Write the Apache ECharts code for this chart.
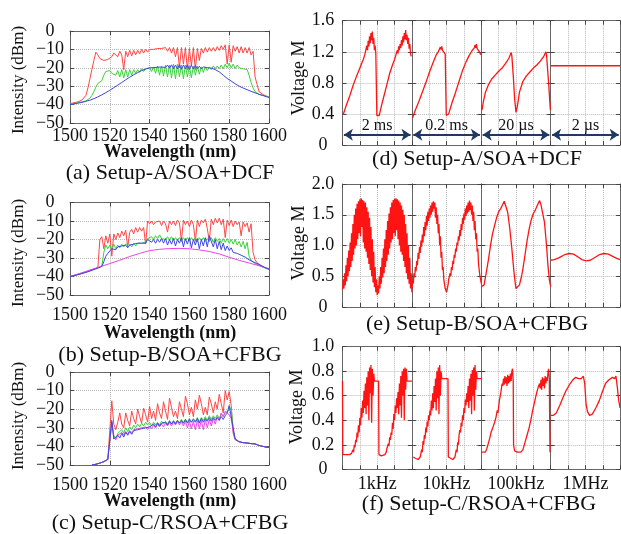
<!DOCTYPE html>
<html><head><meta charset="utf-8">
<script src="https://cdn.jsdelivr.net/npm/echarts@6/dist/echarts.min.js"></script>
<style>html,body{margin:0;padding:0;background:#fff}#c{width:621px;height:534px}</style>
</head><body><div id="c"></div>
<script>
// ---------- DATA: spectra (wavelength in nm, intensity in dBm) ----------
const WL = [1500,1501,1502,1503,1504,1505,1506,1507,1508,1509,1510,1511,1512,1513,1514,1515,1516,1517,1518,1519,
1520,1521,1522,1523,1524,1525,1526,1527,1528,1529,1530,1531,1532,1533,1534,1535,1536,1537,1538,1539,
1540,1541,1542,1543,1544,1545,1546,1547,1548,1549,1550,1551,1552,1553,1554,1555,1556,1557,1558,1559,
1560,1561,1562,1563,1564,1565,1566,1567,1568,1569,1570,1571,1572,1573,1574,1575,1576,1577,1578,1579,
1580,1581,1582,1583,1584,1585,1586,1587,1588,1589,1590,1591,1592,1593,1594,1595,1596,1597,1598,1599,1600];
const WL5 = [1500,1505,1510,1515,1520,1525,1530,1535,1540,1545,1550,1555,1560,1565,1570,1575,1580,1585,1590,1595,1600];
const X_TICKS = {min:1500, max:1600, interval:20};
const Y_TICKS = {min:-50, max:0, interval:10};

const A_RED = [-39.5,-39.5,-39,-39,-38.5,-38,-37.5,-36.5,-35,-31,
-26,-21,-16,-11.5,-13,-15,-16,-16,-15.5,-15.5,
-15,-14,-12,-11,-14,-11,-13,-21,-11,-14,
-10.5,-13.5,-10.5,-13,-10.5,-12.5,-10,-12,-10,-11.5,
-10,-11,-10,-11,-9.5,-10.5,-9.5,-10.5,-9,-11,
-9,-12,-9,-14,-9,-20,-9,-18,-9,-21,
-9.5,-19,-9,-21,-9.5,-16,-9.5,-12,-9,-11.5,
-9,-11,-9,-11,-8.5,-10.5,-8,-10,-7.5,-18,
-7.5,-17,-8,-11,-8.5,-12,-8.5,-12,-9,-12,
-9,-13,-11,-25,-29,-33,-34,-34.5,-35,-35.5,-36];
const A_GREEN = [-40,-39.8,-39.5,-39.2,-39,-38.7,-38.5,-38.2,-38,-37.5,
-36.5,-35,-33,-30.5,-28.5,-27.5,-27,-24,-22,-21,
-21.5,-23,-22.5,-24,-21.5,-25,-21,-25.5,-21,-25,
-21,-24,-21,-23,-21,-22.5,-20.5,-22,-20.5,-21,
-20,-22,-19.5,-23,-19,-24,-19,-24.5,-18.5,-25,
-18.5,-25.5,-18,-26,-18,-25,-18.5,-26,-18.5,-25,
-19,-25.5,-19,-24,-19,-23.5,-19.5,-22.5,-19.5,-21.5,
-19.5,-21,-19,-20.5,-19,-20.5,-18.5,-20.5,-18,-20,
-17.5,-20,-18,-20.5,-18.5,-20,-19,-20.5,-19.5,-21,
-24,-28,-31,-33,-34,-34.5,-34.8,-35,-35.3,-35.6,-36];
const A_BLUE = [-40,-39.8,-39.6,-39.4,-39.2,-39,-38.8,-38.5,-38.2,-38,
-37.6,-37.2,-36.8,-36.3,-35.8,-35.3,-34.7,-34.1,-33.5,-32.9,
-32.2,-31.5,-30.8,-30.1,-29.4,-28.7,-28,-27.2,-26.5,-25.8,
-25.1,-24.4,-23.8,-23.2,-22.6,-22,-21.5,-21.1,-20.7,-20.3,
-20,-19.6,-19.9,-19.2,-19.7,-18.9,-19.6,-18.7,-19.8,-18.5,
-20.2,-18.4,-20.5,-18.5,-20.6,-18.3,-20.8,-18.5,-20.5,-18.4,
-20.8,-18.6,-20.6,-18.8,-20.4,-19.2,-20.6,-19.5,-20.5,-20,
-20.5,-20.2,-21,-21,-21.5,-22.2,-23,-24,-25,-25.8,
-26.5,-27.2,-28,-28.7,-29.5,-30,-30.5,-31,-31.5,-31.9,
-32.3,-32.8,-33.2,-33.6,-34,-34.4,-34.8,-35.1,-35.5,-35.8,-36.2];

const B_RED = [-40,-39.8,-39.5,-39.2,-38.9,-38.6,-38.3,-38,-37.6,-37.2,
-36.8,-36.4,-36,-35.6,-35.2,-20,-18.5,-25,-18,-22,
-17,-29,-17,-20,-16.5,-19,-15.5,-18,-15,-24,
-16,-14.5,-17,-13.5,-16,-13.5,-15.5,-13.5,-22.5,-10,
-11.5,-10,-12,-10.5,-11,-10,-12.5,-10,-11.5,-16,
-10,-12,-10,-12.5,-9.5,-11,-21,-9.5,-12,-10,
-13,-9.5,-12,-21,-9.5,-13,-9.5,-11,-9,-14,
-21,-9,-12,-8.5,-11,-8.5,-12,-9,-19,-9.5,
-12.5,-9.5,-13,-10,-12,-10.5,-18,-10.5,-13,-11,
-16,-11.5,-27,-31,-32.5,-33.5,-34.2,-34.8,-35.2,-35.6,-36];
const B_GREEN = [-40,-39.8,-39.5,-39.2,-38.9,-38.6,-38.3,-38,-37.6,-37.2,
-36.8,-36.4,-36,-35.6,-35.2,-34.8,-34.4,-27,-23,-25,
-23,-25.5,-22.5,-25,-23,-24.5,-22.5,-24,-22.5,-23.5,
-22.5,-24,-22,-23.5,-22,-23,-22,-23,-21.5,-19.5,
-20,-18.5,-20,-18,-19.5,-17.5,-19.5,-18.5,-20,-18.5,
-20,-18.5,-20.5,-19,-20.5,-19,-21,-19,-20.5,-19,
-21,-19,-20.5,-19,-21,-19,-20.5,-19,-21,-19.5,
-21,-19,-21.5,-19,-21,-19.5,-22,-19.5,-21.5,-19.5,
-22,-20,-22.5,-20,-23,-21,-24,-21,-25,-21.5,
-29,-31.5,-32.5,-33,-33.5,-34,-34.6,-35,-35.4,-35.8,-36.2];
const B_BLUE = [-40,-39.8,-39.6,-39.3,-39,-38.7,-38.4,-38.1,-37.8,-37.5,
-37.1,-36.7,-36.3,-35.9,-35.5,-35,-34.5,-32,-29,-27.5,
-26.5,-25,-24,-25.5,-24,-25,-23.5,-24.5,-23,-24.5,
-23,-24,-22.5,-23.5,-22,-23,-22,-22.5,-22,-20,
-20.5,-21.5,-20,-22,-20,-21.5,-19.5,-22,-19.5,-23,
-20,-22.5,-19.5,-23.5,-20,-22,-19,-24,-19.5,-22.5,
-19,-24.5,-20,-23,-19.5,-25,-20,-23.5,-19,-24,
-18,-17.7,-24,-20,-25,-21,-25.5,-22,-26,-23.5,
-26,-24.5,-27,-26,-27.5,-27,-28.5,-28.5,-29.5,-30,
-31,-31.5,-32,-32.5,-33,-33.5,-34,-34.6,-35.2,-35.8,-36.2];
const B_MAGENTA = [-40,-38.3,-36.5,-34.8,-33,-31.2,-29.2,-27.5,-26,-25.3,-24.9,-24.8,-25,-25.6,-26.5,-27.8,-29.6,-31.3,-32.7,-34.2,-35.8];

// panel (c) curves start at 1511 nm
const C_RED = [-50,-49.8,-49.6,-49.3,-49,-48.6,-48.2,-47.6,-47,-46,
-15.5,-28,-31,-27,-22,-28,-30,-22,-26,-29,
-21,-25,-28,-20,-24,-27.5,-19.5,-23,-27,-18.5,
-25,-21,-26,-17,-22,-25,-16,-21,-25.5,-14,
-19,-24,-21,-25,-16,-20,-24,-13,-17,-23,
-19,-24,-15,-20,-12.5,-17,-23,-19,-23,-13.5,
-17,-22,-16,-20,-12,-17,-22,-10,-15,-10.5,
-18,-33,-36.5,-37,-37.5,-37.5,-38,-38,-38,-38.5,
-38.5,-39,-38.5,-39,-39.5,-39.5,-40,-40,-40.5,-40.5];
const C_GREEN = [-50,-49.8,-49.6,-49.3,-49,-48.6,-48.2,-47.6,-47,-46,
-27,-34,-36,-33,-34,-31,-33,-30,-32,-29.5,
-31,-28.5,-30,-28,-29.5,-27.5,-29,-27,-28.5,-27,
-29,-27,-28.5,-27,-28.5,-26.5,-28,-26.5,-28,-26,
-28,-26,-27.5,-26,-27.5,-25.5,-27.5,-25.5,-27,-25,
-27,-25,-26.5,-24.5,-27,-24.5,-26,-24,-26,-23.5,
-25.5,-23.5,-25,-23,-25,-22.5,-24,-22,-23,-20.5,
-19,-31,-36,-37,-37.5,-37.5,-38,-38,-38.2,-38.5,
-38.5,-39,-38.7,-39,-39.5,-39.5,-40,-40,-40.5,-40.5];
const C_MAGENTA = [-50,-49.8,-49.6,-49.3,-49,-48.6,-48.2,-47.6,-47,-46,
-27,-35,-36.5,-34,-35,-32.5,-34,-32,-33.5,-31.5,
-33,-31,-32,-30.5,-31.5,-30,-31,-29.5,-31,-29,
-30.5,-28.5,-30,-28,-29.5,-28,-29.5,-27.5,-29,-27,
-29,-27,-28.5,-26.5,-28.5,-26.5,-29,-26.5,-30,-26.5,
-30.5,-26.5,-31,-26,-30.5,-26,-31,-25.5,-30,-25.5,
-29,-25,-28,-24,-26,-22,-24,-21,-20.5,-23,
-25,-32,-36,-37,-37.5,-37.5,-38,-38,-38.2,-38.5,
-38.5,-39,-38.7,-39,-39.5,-39.5,-40,-40,-40.5,-40.5];
const C_BLUE = [-50,-49.8,-49.6,-49.3,-49,-48.6,-48.2,-47.6,-47,-46,
-26,-36,-37,-34,-35.5,-33,-35,-32.5,-34,-32,
-33.5,-31.5,-32.5,-31,-32,-30.5,-31.5,-30,-31,-29.5,
-30,-28,-29.5,-27.5,-29,-27.5,-28.5,-27,-28.5,-26.5,
-28,-26.5,-28,-26,-27.5,-26,-27.5,-25.5,-27.5,-25.5,
-27,-25.5,-27,-25,-27.5,-25,-27,-25,-26.5,-24.5,
-26.5,-24.5,-26,-24.5,-26,-24,-25.5,-23.5,-22,-18,
-17.5,-30,-36,-37,-37.5,-37.5,-38,-38,-38.2,-38.5,
-38.5,-39,-38.7,-39,-39.5,-39.5,-40,-40,-40.5,-40.5];

// ---------- DATA: waveforms, [time within section (0..1), voltage] ----------
const D_SPANS = ['2 ms','0.2 ms','20 \u00b5s','2 \u00b5s'];
const D1 = [[0.01,0.39],[0.05,0.5],[0.1,0.62],[0.15,0.76],[0.2,0.88],[0.25,0.99],[0.28,1.06],[0.3,1.1],[0.32,1.16],[0.33,1.2],[0.34,1.18],[0.35,1.28],[0.36,1.22],[0.37,1.34],[0.38,1.27],[0.39,1.4],[0.4,1.31],[0.41,1.44],[0.42,1.35],[0.43,1.46],[0.44,1.3],[0.45,1.38],[0.46,1.22],[0.47,1.28],[0.48,1.18],[0.49,1.2],[0.495,0.38],[0.53,0.38],[0.56,0.5],[0.6,0.64],[0.64,0.78],[0.68,0.92],[0.72,1.03],[0.75,1.1],[0.77,1.16],[0.78,1.14],[0.79,1.22],[0.8,1.18],[0.81,1.27],[0.82,1.22],[0.83,1.3],[0.84,1.25],[0.85,1.35],[0.86,1.28],[0.87,1.4],[0.88,1.32],[0.89,1.44],[0.9,1.36],[0.91,1.48],[0.92,1.35],[0.93,1.42],[0.94,1.3],[0.95,1.38],[0.96,1.24],[0.97,1.3],[0.98,1.18],[0.99,1.14]];
const D2 = [[0.01,0.35],[0.05,0.45],[0.1,0.56],[0.15,0.68],[0.2,0.8],[0.25,0.93],[0.3,1.05],[0.35,1.16],[0.38,1.2],[0.4,1.22],[0.41,1.26],[0.42,1.23],[0.43,1.27],[0.44,1.22],[0.46,1.2],[0.48,1.17],[0.49,1.16],[0.495,0.38],[0.51,0.38],[0.53,0.4],[0.58,0.55],[0.63,0.68],[0.68,0.82],[0.73,0.96],[0.78,1.07],[0.83,1.16],[0.87,1.22],[0.9,1.25],[0.91,1.29],[0.92,1.25],[0.93,1.3],[0.94,1.24],[0.96,1.24],[0.98,1.19],[0.99,1.16]];
const D3 = [[0.01,0.45],[0.03,0.56],[0.06,0.68],[0.1,0.77],[0.15,0.85],[0.2,0.9],[0.25,0.95],[0.3,0.99],[0.35,1.05],[0.4,1.12],[0.43,1.19],[0.44,1.15],[0.46,0.9],[0.48,0.6],[0.5,0.42],[0.52,0.5],[0.55,0.68],[0.6,0.82],[0.65,0.89],[0.7,0.94],[0.75,0.99],[0.8,1.03],[0.85,1.08],[0.9,1.14],[0.93,1.2],[0.94,1.16],[0.97,0.8],[0.995,0.45]];
const D4 = [[0,1.02],[1,1.02]];
const ARROW_Y = 0.133, ARROW_FROM = 0.02, ARROW_TO = 0.98;

const E1 = [[0,0.28],[0.01,0.45],[0.02,0.3],[0.03,0.55],[0.04,0.35],[0.05,0.68],[0.06,0.42],[0.07,0.8],[0.08,0.5],[0.09,0.92],[0.1,0.58],[0.11,1.05],[0.12,0.65],[0.13,1.2],[0.14,0.75],[0.15,1.35],[0.16,0.85],[0.17,1.5],[0.18,0.95],[0.19,1.6],[0.2,1.0],[0.21,1.68],[0.22,1.1],[0.23,1.72],[0.24,1.2],[0.25,1.75],[0.26,1.15],[0.27,1.77],[0.28,1.3],[0.29,1.74],[0.3,1.05],[0.31,1.72],[0.32,0.95],[0.33,1.7],[0.34,0.9],[0.35,1.62],[0.36,0.8],[0.37,1.55],[0.38,0.7],[0.39,1.45],[0.4,0.6],[0.41,1.3],[0.42,0.5],[0.43,1.1],[0.44,0.4],[0.45,0.9],[0.46,0.32],[0.47,0.65],[0.48,0.24],[0.49,0.45],[0.5,0.19],[0.51,0.35],[0.52,0.22],[0.53,0.5],[0.54,0.3],[0.55,0.65],[0.56,0.38],[0.57,0.8],[0.58,0.48],[0.59,0.95],[0.6,0.55],[0.61,1.1],[0.62,0.65],[0.63,1.25],[0.64,0.75],[0.65,1.4],[0.66,0.85],[0.67,1.52],[0.68,0.95],[0.69,1.62],[0.7,1.05],[0.71,1.7],[0.72,1.1],[0.73,1.74],[0.74,1.2],[0.75,1.76],[0.76,1.15],[0.77,1.77],[0.78,1.25],[0.79,1.75],[0.8,1.1],[0.81,1.73],[0.82,1.0],[0.83,1.7],[0.84,0.9],[0.85,1.65],[0.86,0.85],[0.87,1.58],[0.88,0.75],[0.89,1.5],[0.9,0.65],[0.91,1.35],[0.92,0.55],[0.93,1.2],[0.94,0.45],[0.95,1.0],[0.96,0.38],[0.97,0.8],[0.98,0.3],[0.99,0.55],[1,0.24]];
const E2 = [[0,0.3],[0.01,0.45],[0.02,0.38],[0.03,0.55],[0.04,0.48],[0.05,0.65],[0.06,0.58],[0.07,0.75],[0.08,0.68],[0.09,0.88],[0.1,0.78],[0.11,0.98],[0.12,0.88],[0.13,1.08],[0.14,0.98],[0.15,1.18],[0.16,1.05],[0.17,1.3],[0.18,1.15],[0.19,1.38],[0.2,1.25],[0.21,1.48],[0.22,1.32],[0.23,1.55],[0.24,1.4],[0.25,1.6],[0.26,1.45],[0.27,1.65],[0.28,1.5],[0.29,1.7],[0.3,1.55],[0.31,1.72],[0.32,1.6],[0.33,1.7],[0.34,1.45],[0.35,1.62],[0.36,1.35],[0.37,1.5],[0.38,1.2],[0.39,1.35],[0.4,1.0],[0.41,1.15],[0.42,0.8],[0.43,0.9],[0.44,0.6],[0.45,0.65],[0.46,0.45],[0.47,0.42],[0.48,0.3],[0.49,0.28],[0.5,0.24],[0.51,0.3],[0.52,0.35],[0.53,0.45],[0.54,0.42],[0.55,0.55],[0.56,0.5],[0.57,0.65],[0.58,0.6],[0.59,0.75],[0.6,0.7],[0.61,0.85],[0.62,0.8],[0.63,0.95],[0.64,0.9],[0.65,1.05],[0.66,1.0],[0.67,1.15],[0.68,1.08],[0.69,1.25],[0.7,1.15],[0.71,1.35],[0.72,1.25],[0.73,1.45],[0.74,1.35],[0.75,1.52],[0.76,1.42],[0.77,1.6],[0.78,1.48],[0.79,1.65],[0.8,1.52],[0.81,1.7],[0.82,1.55],[0.83,1.73],[0.84,1.58],[0.85,1.7],[0.86,1.5],[0.87,1.65],[0.88,1.4],[0.89,1.55],[0.9,1.25],[0.91,1.4],[0.92,1.1],[0.93,1.2],[0.94,0.9],[0.95,0.95],[0.96,0.7],[0.97,0.7],[0.98,0.5],[0.99,0.45],[1,0.38]];
const E3 = [[0,0.33],[0.02,0.3],[0.04,0.36],[0.07,0.55],[0.1,0.75],[0.13,0.98],[0.16,1.18],[0.19,1.32],[0.22,1.45],[0.25,1.55],[0.28,1.6],[0.31,1.67],[0.33,1.72],[0.35,1.65],[0.38,1.54],[0.41,1.28],[0.44,0.95],[0.47,0.58],[0.49,0.38],[0.5,0.3],[0.52,0.3],[0.55,0.36],[0.58,0.5],[0.6,0.62],[0.63,0.85],[0.66,1.08],[0.69,1.27],[0.72,1.42],[0.75,1.52],[0.78,1.58],[0.81,1.66],[0.84,1.73],[0.86,1.66],[0.88,1.55],[0.91,1.38],[0.94,1.0],[0.96,0.68],[0.98,0.45],[1,0.33]];
const E4 = [[0,0.76],[0.05,0.77],[0.1,0.79],[0.15,0.82],[0.2,0.85],[0.27,0.87],[0.33,0.86],[0.4,0.81],[0.45,0.77],[0.51,0.75],[0.57,0.76],[0.63,0.8],[0.7,0.85],[0.77,0.87],[0.83,0.86],[0.9,0.82],[0.95,0.79],[1,0.77]];

const F_LABELS = ['1kHz','10kHz','100kHz','1MHz'];
const F1 = [[0,0.72],[0.005,0.12],[0.05,0.12],[0.1,0.12],[0.13,0.13],[0.15,0.16],[0.16,0.14],[0.17,0.2],[0.18,0.18],[0.19,0.24],[0.2,0.22],[0.21,0.3],[0.22,0.26],[0.23,0.36],[0.24,0.3],[0.25,0.42],[0.26,0.36],[0.27,0.5],[0.28,0.42],[0.29,0.56],[0.3,0.46],[0.31,0.64],[0.32,0.5],[0.33,0.7],[0.34,0.45],[0.35,0.75],[0.36,0.52],[0.37,0.8],[0.38,0.4],[0.39,0.83],[0.4,0.62],[0.41,0.85],[0.42,0.38],[0.43,0.82],[0.44,0.6],[0.45,0.78],[0.46,0.72],[0.52,0.72],[0.525,0.12],[0.56,0.11],[0.61,0.12],[0.63,0.14],[0.64,0.17],[0.65,0.16],[0.66,0.21],[0.67,0.19],[0.68,0.26],[0.69,0.24],[0.7,0.3],[0.71,0.28],[0.72,0.38],[0.73,0.33],[0.74,0.45],[0.75,0.4],[0.76,0.52],[0.77,0.46],[0.78,0.58],[0.79,0.5],[0.8,0.63],[0.81,0.45],[0.82,0.7],[0.83,0.52],[0.84,0.76],[0.85,0.42],[0.86,0.8],[0.87,0.6],[0.88,0.82],[0.89,0.4],[0.9,0.83],[0.91,0.65],[0.92,0.82],[0.93,0.72],[1,0.72]];
const F2 = [[0.02,0.1],[0.05,0.09],[0.09,0.08],[0.12,0.1],[0.14,0.16],[0.15,0.14],[0.16,0.23],[0.17,0.2],[0.18,0.28],[0.19,0.25],[0.2,0.34],[0.21,0.3],[0.22,0.39],[0.23,0.35],[0.24,0.44],[0.25,0.4],[0.26,0.48],[0.27,0.44],[0.28,0.56],[0.29,0.48],[0.3,0.62],[0.31,0.5],[0.32,0.68],[0.33,0.55],[0.34,0.74],[0.35,0.48],[0.36,0.8],[0.37,0.58],[0.38,0.83],[0.39,0.45],[0.4,0.85],[0.41,0.6],[0.42,0.8],[0.43,0.74],[0.52,0.74],[0.525,0.1],[0.55,0.09],[0.59,0.08],[0.62,0.1],[0.64,0.16],[0.65,0.14],[0.66,0.22],[0.67,0.2],[0.68,0.28],[0.69,0.32],[0.7,0.3],[0.71,0.38],[0.72,0.35],[0.73,0.44],[0.74,0.4],[0.75,0.5],[0.76,0.46],[0.77,0.57],[0.78,0.52],[0.79,0.62],[0.8,0.55],[0.81,0.68],[0.82,0.5],[0.83,0.74],[0.84,0.56],[0.85,0.78],[0.86,0.45],[0.87,0.81],[0.88,0.6],[0.89,0.83],[0.9,0.48],[0.91,0.85],[0.92,0.65],[0.93,0.8],[0.94,0.74],[1,0.74]];
const F3 = [[0.01,0.14],[0.03,0.13],[0.06,0.14],[0.08,0.17],[0.1,0.21],[0.12,0.25],[0.14,0.3],[0.16,0.33],[0.17,0.32],[0.19,0.38],[0.21,0.42],[0.23,0.48],[0.24,0.46],[0.26,0.56],[0.28,0.62],[0.3,0.7],[0.31,0.68],[0.32,0.74],[0.33,0.69],[0.34,0.76],[0.35,0.7],[0.36,0.75],[0.37,0.68],[0.38,0.77],[0.39,0.7],[0.4,0.76],[0.41,0.71],[0.42,0.78],[0.43,0.72],[0.44,0.8],[0.45,0.82],[0.46,0.72],[0.465,0.2],[0.48,0.15],[0.52,0.14],[0.57,0.14],[0.6,0.16],[0.63,0.22],[0.66,0.28],[0.69,0.34],[0.72,0.42],[0.74,0.48],[0.76,0.53],[0.78,0.58],[0.8,0.63],[0.82,0.67],[0.84,0.7],[0.85,0.66],[0.86,0.73],[0.87,0.65],[0.88,0.75],[0.89,0.68],[0.9,0.74],[0.91,0.66],[0.92,0.76],[0.93,0.7],[0.94,0.75],[0.95,0.72],[0.96,0.78],[0.97,0.82],[0.98,0.74],[0.99,0.14]];
const F4 = [[0,0.44],[0.04,0.44],[0.08,0.46],[0.13,0.52],[0.18,0.59],[0.22,0.64],[0.27,0.69],[0.32,0.73],[0.36,0.75],[0.4,0.74],[0.44,0.74],[0.47,0.76],[0.49,0.7],[0.51,0.53],[0.53,0.47],[0.56,0.44],[0.6,0.45],[0.65,0.5],[0.7,0.56],[0.75,0.64],[0.79,0.7],[0.84,0.73],[0.89,0.75],[0.92,0.74],[0.94,0.76],[0.96,0.67],[0.98,0.56],[1,0.5]];

// ---------- BUILD ----------
const FONT = 'Liberation Serif';
const AXC = '#666', TXT = '#111';
const COL = {red:'#ff4545', green:'#3ad23a', blue:'#3d45e0', magenta:'#ee40ee', wave:'#ff1414'};
const pairs = (xs, ys) => ys.map((y, i) => [xs[i], y]);
const minus = v => (v < 0 ? '\u2212' + (-v) : String(v));

const grids = [], xAxes = [], yAxes = [], series = [];

function baseAxis(gi, pos, rng) {
  return {type:'value', gridIndex:gi, position:pos, min:rng.min, max:rng.max, interval:rng.interval,
    axisLine:{show:true, onZero:false, lineStyle:{color:AXC, width:1}},
    axisTick:{show:true, inside:true, length:4, lineStyle:{color:'#444', width:1}},
    axisLabel:{show:false}, splitLine:{show:false}};
}
const dotted = {show:true, lineStyle:{color:'#b8b8b8', type:'dotted', width:1}};

function addPanel(rect, xr, yr, opts) {
  const gi = grids.length;
  grids.push(Object.assign({outerBoundsMode:'none', containLabel:false}, rect));
  const xb = baseAxis(gi, 'bottom', xr);
  xb.splitLine = dotted;
  if (opts.xLabel) xb.axisLabel = Object.assign({show:true, color:TXT, fontFamily:FONT, fontSize:18, formatter:v => String(v)}, opts.xLabel);
  if (opts.xName) Object.assign(xb, {name:opts.xName, nameLocation:'middle', nameGap:6,
    nameTextStyle:{color:TXT, fontFamily:FONT, fontSize:18}});
  xAxes.push(xb, baseAxis(gi, 'top', xr));
  const yl = baseAxis(gi, 'left', yr);
  yl.splitLine = dotted;
  if (opts.yLabel) yl.axisLabel = Object.assign({show:true, color:TXT, fontFamily:FONT, fontSize:18, align:'center'}, opts.yLabel);
  yAxes.push(yl, baseAxis(gi, 'right', yr));
  return gi;
}
function addLine(gi, data, color, width, extra) {
  series.push(Object.assign({type:'line', xAxisIndex:2*gi, yAxisIndex:2*gi, data, showSymbol:false, symbol:'none',
    silent:true, lineStyle:{color, width}, itemStyle:{color}, z:2}, extra || {}));
}

// Left: spectra
const LEFT_RECTS = [{left:70, top:31, width:199, height:92}, {left:70, top:202.5, width:199, height:92.5}, {left:70, top:372, width:199, height:93}];
const XLAB_MARGIN = [4, 11, 11];
const WL_C = WL.slice(11);
const SPECTRA = [
  [[pairs(WL, A_RED), COL.red], [pairs(WL, A_GREEN), COL.green], [pairs(WL, A_BLUE), COL.blue]],
  [[pairs(WL, B_RED), COL.red], [pairs(WL, B_GREEN), COL.green], [pairs(WL5, B_MAGENTA), COL.magenta], [pairs(WL, B_BLUE), COL.blue]],
  [[pairs(WL_C, C_RED), COL.red], [pairs(WL_C, C_GREEN), COL.green], [pairs(WL_C, C_MAGENTA), COL.magenta], [pairs(WL_C, C_BLUE), COL.blue]]
];
LEFT_RECTS.forEach((r, p) => {
  const gi = addPanel(r, X_TICKS, Y_TICKS, {xLabel:{margin:XLAB_MARGIN[p]}, yLabel:{margin:20, formatter:minus}});
  SPECTRA[p].forEach(([d, c]) => addLine(gi, d, c, 1));
});

// Right: waveforms, four sections per panel
const SEC_X = {min:0, max:1, interval:0.25};
const RIGHT_ROWS = [{top:20.7, height:124.3}, {top:184, height:123}, {top:346.7, height:122.6}];
const RIGHT_Y = [{min:0, max:1.6, interval:0.4}, {min:0, max:2, interval:0.5}, {min:0, max:1, interval:0.2}];
const WAVES = [[D1, D2, D3, D4], [E1, E2, E3, E4], [F1, F2, F3, F4]];
const yFmt = v => (v === 0 ? '0' : v.toFixed(1));
RIGHT_ROWS.forEach((row, p) => {
  for (let s = 0; s < 4; s++) {
    const rect = {left:342.5 + s * 69.4, top:row.top, width:69.4, height:row.height};
    const gi = addPanel(rect, SEC_X, RIGHT_Y[p], {
      yLabel: s === 0 ? {margin:19.5, formatter:yFmt} : null,
      xName: p === 2 ? F_LABELS[s] : null
    });
    const extra = {};
    if (p === 0) {
      extra.markLine = {silent:true, symbol:['arrow','arrow'], symbolSize:9, animation:false,
        lineStyle:{color:'#1f3864', width:2, type:'solid'},
        label:{show:true, formatter:D_SPANS[s], position:'insideMiddleTop', distance:1, color:TXT, fontFamily:FONT, fontSize:16},
        data:[[{coord:[ARROW_FROM, ARROW_Y]}, {coord:[ARROW_TO, ARROW_Y]}]]};
    }
    addLine(gi, WAVES[p][s], COL.wave, 1.3, extra);
  }
});

// Text: titles and axis names
const T = (text, x, y, size, opt) => Object.assign({type:'text', x, y, silent:true,
  style:{text, fill:TXT, fontFamily:FONT, fontSize:size, fontWeight:(opt && opt.bold) ? 'bold' : 'normal', align:'center', verticalAlign:'middle'}},
  (opt && opt.rot) ? {rotation:Math.PI / 2} : {});
const graphic = [
  T('(a) Setup-A/SOA+DCF', 170, 173, 22), T('(b) Setup-B/SOA+CFBG', 170, 355, 22), T('(c) Setup-C/RSOA+CFBG', 170, 523, 22),
  T('(d) Setup-A/SOA+DCF', 477, 159, 22), T('(e) Setup-B/SOA+CFBG', 477, 324, 22), T('(f) Setup-C/RSOA+CFBG', 479, 504, 22),
  T('Wavelength (nm)', 170, 152, 18, {bold:true}), T('Wavelength (nm)', 170, 333, 18, {bold:true}), T('Wavelength (nm)', 170, 501, 18, {bold:true}),
  T('Intensity (dBm)', 19, 80, 17, {rot:true}), T('Intensity (dBm)', 19, 253, 17, {rot:true}), T('Intensity (dBm)', 19, 416, 17, {rot:true}),
  T('Voltage M', 299, 78, 18, {rot:true}), T('Voltage M', 299, 243, 18, {rot:true}), T('Voltage M', 297, 407, 18, {rot:true})
];

const chart = echarts.init(document.getElementById('c'), null, {renderer:'canvas'});
chart.setOption({animation:false, backgroundColor:'#fff', grid:grids, xAxis:xAxes, yAxis:yAxes, series, graphic});
</script></body></html>
